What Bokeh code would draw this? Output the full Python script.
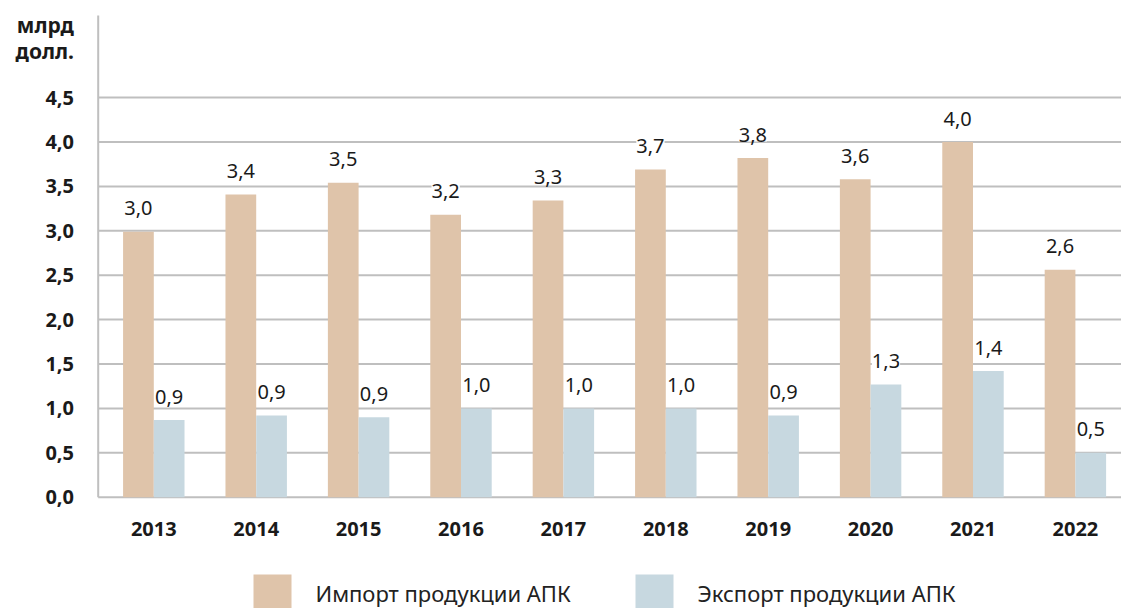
from bokeh.plotting import figure
from bokeh.models import Range1d, ColumnDataSource, LabelSet
from bokeh.core.properties import value
from bokeh.embed import file_html
from bokeh.resources import INLINE

years = ["2013", "2014", "2015", "2016", "2017", "2018", "2019", "2020", "2021", "2022"]
import_vals = [2.99, 3.41, 3.54, 3.18, 3.34, 3.69, 3.82, 3.58, 4.00, 2.56]
export_vals = [0.87, 0.92, 0.90, 1.00, 1.00, 1.00, 0.92, 1.27, 1.42, 0.50]
y_ticks = [0.0, 0.5, 1.0, 1.5, 2.0, 2.5, 3.0, 3.5, 4.0, 4.5]
series_names = ["Импорт продукции АПК", "Экспорт продукции АПК"]
unit_lines = ["млрд", "долл."]

FONT = "Noto Sans"
C_IMP = "#DFC4AA"
C_EXP = "#C7D8E0"
GRID = "#BFBFBF"
TXT = "#1a1a1a"

W, H = 1121, 608
X0_PX, DX_PX = 153.3, 102.4   # pixel of first category centre, pixels per category
Y0_PX, DY_PX = 496.7, 88.8    # pixel of zero line, pixels per unit


def xd(px):
    return (px - X0_PX) / DX_PX


def yd(py):
    return (Y0_PX - py) / DY_PX


def fmt(v):
    return f"{v:.1f}".replace(".", ",")


idx = list(range(len(years)))
bw = 0.3
src_imp = ColumnDataSource(dict(x=[i - bw / 2 for i in idx], y=import_vals,
                                lab=[fmt(v) for v in import_vals]))
src_exp = ColumnDataSource(dict(x=[i + bw / 2 for i in idx], y=export_vals,
                                lab=[fmt(v) for v in export_vals]))

p = figure(width=W, height=H, output_backend="svg", toolbar_location=None,
           x_range=Range1d(xd(0), xd(W)), y_range=Range1d(yd(H), yd(0)),
           x_axis_location=None, y_axis_location=None,
           min_border_left=0, min_border_right=0, min_border_top=0, min_border_bottom=0)
p.outline_line_color = None
p.grid.visible = False
p.background_fill_color = "white"
p.border_fill_color = "white"

# grid lines and axis
p.segment(x0=[xd(97.7)] * len(y_ticks), x1=[xd(W)] * len(y_ticks), y0=y_ticks, y1=y_ticks,
          line_color=GRID, line_width=2)
p.segment(x0=[xd(97.7)], x1=[xd(97.7)], y0=[0], y1=[yd(15)], line_color=GRID, line_width=2)

# bars
p.vbar(x="x", top="y", width=bw, source=src_imp, fill_color=C_IMP, line_color=None)
p.vbar(x="x", top="y", width=bw, source=src_exp, fill_color=C_EXP, line_color=None)

# y tick labels
p.text(x=[xd(73.5)] * len(y_ticks), y=y_ticks, text=[fmt(t) for t in y_ticks],
       text_align="right", text_baseline="middle", text_font=value(FONT),
       text_font_style="bold", text_font_size="20px", text_color=TXT)

# x tick labels
p.text(x=idx, y=[yd(528.5)] * len(idx), text=years, text_align="center",
       text_baseline="middle", text_font=value(FONT), text_font_style="bold",
       text_font_size="20px", text_color=TXT)

# unit label
p.text(x=[xd(73.5)] * 2, y=[yd(24), yd(50)], text=unit_lines, text_align="right",
       text_baseline="middle", text_font=value(FONT), text_font_style="bold",
       text_font_size="21px", text_color=TXT)

# value labels
for src in (src_imp, src_exp):
    ls = LabelSet(x="x", y="y", text="lab", source=src, text_align="center",
                  text_baseline="middle", y_offset=23.4, text_font=value(FONT),
                  text_font_size="20px", text_color=TXT,
                  background_fill_color="white")
    p.add_layout(ls)

# legend
sw_left = [253, 635]
p.quad(left=[xd(x) for x in sw_left], right=[xd(x + 38) for x in sw_left],
       top=[yd(574)] * 2, bottom=[yd(614)] * 2, fill_color=[C_IMP, C_EXP], line_color=None)
p.text(x=[xd(315), xd(697)], y=[yd(592.5)] * 2, text=series_names, text_align="left",
       text_baseline="middle", text_font=value(FONT), text_font_size="22px",
       text_color="#222222")

open("out.html", "w").write(file_html(p, INLINE))
